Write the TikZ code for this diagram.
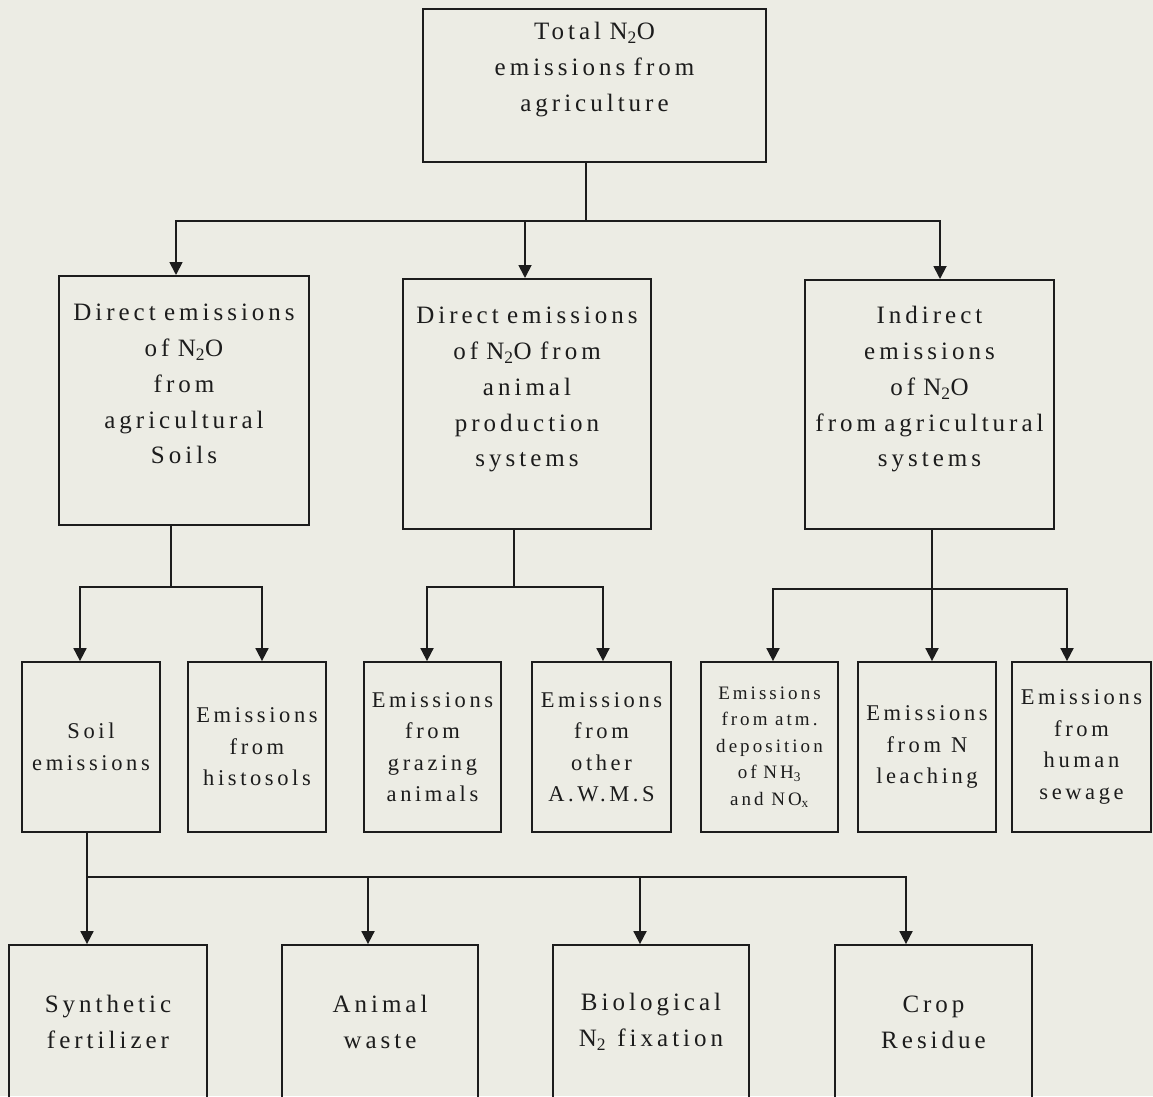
\documentclass[tikz,border=0pt]{standalone}
\usepackage{fontspec}
\setmainfont{Liberation Serif}[LetterSpace=16, WordSpace=1.9]
\usetikzlibrary{arrows.meta}

\definecolor{paper}{RGB}{236,236,228}
\definecolor{ink}{RGB}{28,28,28}

\begin{document}
\begin{tikzpicture}[
  x=1pt, y=-1pt,
  >={Triangle[width=13pt,length=13pt]},
  line width=1.8pt,
  color=ink,
  box/.style={draw=ink, rectangle, inner sep=0pt, text=ink, align=center},
  bigtxt/.style={font=\fontsize{25}{35.7}\selectfont},
  midtxt/.style={font=\fontsize{22.5}{31.5}\selectfont},
  smalltxt/.style={font=\fontsize{19}{26.5}\selectfont},
  % text hung from the top edge: width, first baseline, rest of the height
  hung/.style n args={3}{anchor=north, minimum width=#1, text width=#1-4pt,
    text height=#2, text depth=#3},
  lvthree/.style={box, midtxt, minimum height=170pt},
  lvfour/.style={box, bigtxt, minimum height=154pt}
]

\useasboundingbox (0,0) rectangle (1153,1096);
\fill[paper] (0,0) rectangle (1153,1096);
\clip (0,0) rectangle (1153,1096);

% --- Total ---
\node[box, bigtxt, hung={343pt}{31pt}{122pt}] (tot) at (594.5,8)
  {Total N\textsubscript{2}O\\emissions from\\agriculture};

% --- Second row ---
\node[box, bigtxt, hung={250pt}{45pt}{204pt}] (dsoil) at (184,275)
  {Direct emissions\\of N\textsubscript{2}O\\from\\agricultural\\Soils};
\node[box, bigtxt, hung={248pt}{45pt}{205pt}] (danim) at (527,278)
  {Direct emissions\\of  N\textsubscript{2}O from\\animal\\production\\systems};
\node[box, bigtxt, hung={249pt}{44pt}{205pt}] (indir) at (929.5,279)
  {Indirect\\emissions\\of N\textsubscript{2}O\\from agricultural\\systems};

% --- Third row ---
\node[lvthree, minimum width=138pt] (soil)  at (91,747)    {Soil\\emissions};
\node[lvthree, minimum width=138pt] (histo) at (257,747)   {Emissions\\from\\histosols};
\node[lvthree, minimum width=137pt] (graz)  at (432.5,747) {Emissions\\from\\grazing\\animals};
\node[lvthree, minimum width=139pt] (awms)  at (601.5,747) {Emissions\\from\\other\\A.W.M.S};
\node[lvthree, smalltxt, minimum width=137pt] (atm) at (769.5,747)
  {Emissions\\from\hspace{0.4em}atm.\\deposition\\of\hspace{0.35em}NH\textsubscript{3}\\and\hspace{0.4em}NO\textsubscript{x}};
\node[lvthree, minimum width=138pt] (leach) at (927,747)   {Emissions\\from\hspace{0.45em}N\\leaching};
\node[lvthree, minimum width=139pt] (sew)   at (1081.5,747) {Emissions\\from\\human\\sewage};

% --- Fourth row ---
\node[lvfour, minimum width=198pt] (synth) at (108,1022)   {Synthetic\\fertilizer};
\node[lvfour, minimum width=196pt] (anim)  at (380,1022)   {Animal\\waste};
\node[lvfour, minimum width=196pt] (bio)   at (651,1022)   {Biological\\N\textsubscript{2}\hspace{0.45em}fixation};
\node[lvfour, minimum width=197pt] (crop)  at (933.5,1022) {Crop\\Residue};

% --- Total -> second row ---
\coordinate (t0) at (586,221);
\coordinate (t1) at (176,221);
\coordinate (t2) at (525,221);
\coordinate (t3) at (940,221);
\draw[->] (tot.south -| t0) -- (t0) -- (t1) -- (t1 |- dsoil.north);
\draw[->] (t0) -- (t3) -- (t3 |- indir.north);
\draw[->] (t2) -- (t2 |- danim.north);

% --- Soils branch ---
\coordinate (s0) at (171,587);
\coordinate (s1) at (80,587);
\coordinate (s2) at (262,587);
\draw[->] (dsoil.south -| s0) -- (s0) -- (s1) -- (s1 |- soil.north);
\draw[->] (s0) -- (s2) -- (s2 |- histo.north);

% --- Animal branch ---
\coordinate (a0) at (514,587);
\coordinate (a1) at (427,587);
\coordinate (a2) at (603,587);
\draw[->] (danim.south -| a0) -- (a0) -- (a1) -- (a1 |- graz.north);
\draw[->] (a0) -- (a2) -- (a2 |- awms.north);

% --- Indirect branch ---
\coordinate (i0) at (932,589);
\coordinate (i1) at (773,589);
\coordinate (i2) at (1067,589);
\draw[->] (indir.south -| i0) -- (i0 |- leach.north);
\draw[->] (i0) -- (i1) -- (i1 |- atm.north);
\draw[->] (i0) -- (i2) -- (i2 |- sew.north);

% --- Soil emissions -> sources ---
\coordinate (r1) at (87,877);
\coordinate (r2) at (368,877);
\coordinate (r3) at (640,877);
\coordinate (r4) at (906,877);
\draw[->] (soil.south -| r1) -- (r1 |- synth.north);
\draw[->] (r1) -- (r4) -- (r4 |- crop.north);
\draw[->] (r2) -- (r2 |- anim.north);
\draw[->] (r3) -- (r3 |- bio.north);

\end{tikzpicture}
\end{document}
